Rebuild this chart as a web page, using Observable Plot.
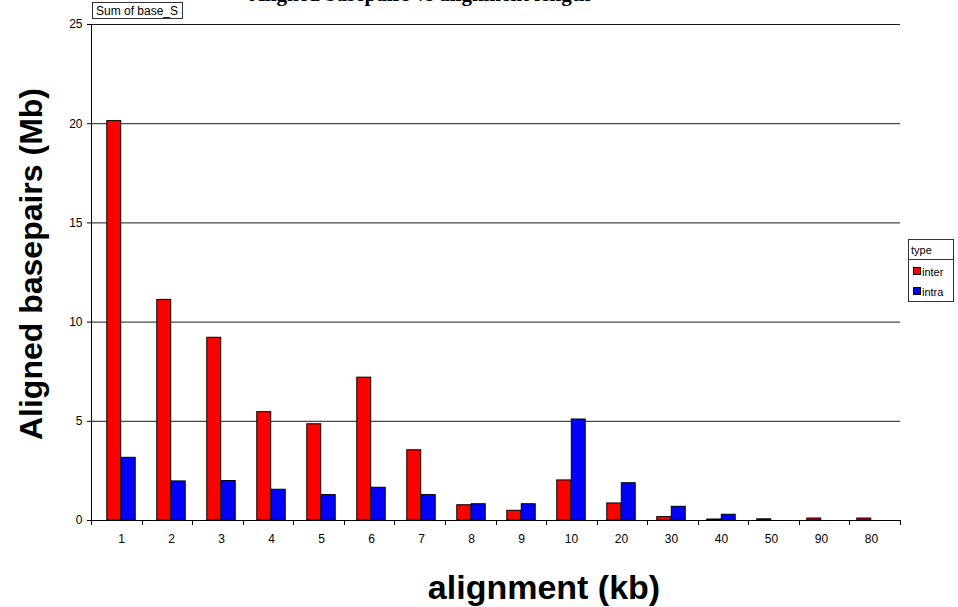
<!DOCTYPE html>
<html>
<head>
<meta charset="utf-8">
<script src="https://cdn.jsdelivr.net/npm/d3@7"></script>
<script src="https://cdn.jsdelivr.net/npm/@observablehq/plot@0.6"></script>
<style>
  html, body { margin: 0; padding: 0; background: #fff; }
  #chart { position: relative; width: 958px; height: 607px; overflow: hidden; }
  #chart svg { display: block; }
</style>
</head>
<body>
<div id="chart"></div>
<script>
// Alignment length bins (kb), in pivot-table order
const sizes = ["1", "2", "3", "4", "5", "6", "7", "8", "9", "10", "20", "30", "40", "50", "90", "80"];
// Sum of aligned basepairs (Mb) per bin
const interValues = [20.13, 11.12, 9.21, 5.46, 4.85, 7.2, 3.54, 0.77, 0.49, 2.02, 0.86, 0.17, 0.05, 0.06, 0.1, 0.1];
const intraValues = [3.16, 1.97, 1.99, 1.55, 1.28, 1.65, 1.28, 0.82, 0.82, 5.09, 1.88, 0.69, 0.29, null, null, null];
const seriesNames = ["inter", "intra"];
const seriesColors = ["#ff0000", "#0000ff"];
const yTicks = [0, 5, 10, 15, 20, 25];

const titleText = "Aligned basepairs vs alignment length";
const yTitle = "Aligned basepairs (Mb)";
const xTitle = "alignment (kb)";
const fieldButton = "Sum of base_S";
const legendTitle = "type";

const W = 958, H = 607;
const mL = 91, mR = 58, mT = 24, mB = 87;
const step = (W - mL - mR) / sizes.length;
const barW = 14.5;
const sans = "'Liberation Sans', Arial, Helvetica, sans-serif";

const interData = sizes.map((s, i) => ({size: s, value: interValues[i]}));
const intraData = sizes.map((s, i) => ({size: s, value: intraValues[i]})).filter(d => d.value != null);

const chart = Plot.plot({
  width: W,
  height: H,
  marginLeft: mL,
  marginRight: mR,
  marginTop: mT,
  marginBottom: mB,
  style: {fontFamily: sans, fontSize: "12px", color: "#000", background: "#fff"},
  x: {domain: sizes, padding: 0, tickSize: 0, tickPadding: 14, label: null},
  y: {domain: [0, 25], ticks: yTicks, tickSize: 4, tickPadding: 5, label: null, line: true},
  marks: [
    Plot.ruleY(yTicks, {stroke: "#1a1a1a", strokeWidth: 1}),
    Plot.barY(interData, {
      x: "size", y: "value", fill: seriesColors[0], stroke: "#000", strokeWidth: 1,
      insetLeft: step / 2 - barW, insetRight: step / 2
    }),
    Plot.barY(intraData, {
      x: "size", y: "value", fill: seriesColors[1], stroke: "#000", strokeWidth: 1,
      insetLeft: step / 2, insetRight: step / 2 - barW
    }),
    Plot.ruleY([0], {stroke: "#000", strokeWidth: 1})
  ]
});

document.getElementById("chart").appendChild(chart);

const svg = d3.select(chart);

// Category-boundary tick marks on the x axis, from the plot's band scale
const xs = chart.scale("x");
const band = d3.scaleBand(xs.domain, xs.range)
  .paddingInner(xs.paddingInner ?? 0)
  .paddingOuter(xs.paddingOuter ?? 0);
const y0 = chart.scale("y").range[0];
const bounds = sizes.map(s => band(s)).concat([band(sizes[sizes.length - 1]) + band.bandwidth()]);
svg.append("g")
  .attr("stroke", "#000")
  .selectAll("line")
  .data(bounds)
  .join("line")
  .attr("x1", d => Math.round(d) + 0.5)
  .attr("x2", d => Math.round(d) + 0.5)
  .attr("y1", y0)
  .attr("y2", y0 + 5);

// Chart title (runs off the top edge)
svg.append("text")
  .attr("x", 420)
  .attr("y", 1)
  .attr("text-anchor", "middle")
  .attr("font-family", "'Liberation Serif', 'Times New Roman', serif")
  .attr("font-weight", "bold")
  .attr("font-size", 21)
  .text(titleText);

// Pivot data-field button
const fb = svg.append("g");
const fbText = fb.append("text")
  .attr("x", 96)
  .attr("y", 15)
  .attr("text-anchor", "start")
  .attr("font-family", sans)
  .attr("font-size", 12)
  .text(fieldButton);
const fbLen = fbText.node().getComputedTextLength();
fb.insert("rect", "text")
  .attr("x", 92.5)
  .attr("y", 2.5)
  .attr("width", Math.round(fbLen + 8))
  .attr("height", 16)
  .attr("fill", "#fff")
  .attr("stroke", "#333");

// Axis titles
svg.append("text")
  .attr("transform", `translate(42,264) rotate(-90)`)
  .attr("text-anchor", "middle")
  .attr("font-family", sans)
  .attr("font-weight", "bold")
  .attr("font-size", 32)
  .text(yTitle);

svg.append("text")
  .attr("x", 544)
  .attr("y", 599)
  .attr("text-anchor", "middle")
  .attr("font-family", sans)
  .attr("font-weight", "bold")
  .attr("font-size", 34)
  .text(xTitle);

// Legend
const lg = svg.append("g")
  .attr("font-family", sans)
  .attr("font-size", 11)
  .attr("text-anchor", "start");
lg.append("rect")
  .attr("x", 908.5).attr("y", 239.5).attr("width", 45).attr("height", 62)
  .attr("fill", "#fff").attr("stroke", "#333");
lg.append("line")
  .attr("x1", 908.5).attr("x2", 953.5).attr("y1", 259.5).attr("y2", 259.5)
  .attr("stroke", "#333");
lg.append("text").attr("x", 911).attr("y", 254).text(legendTitle);
seriesNames.forEach((name, i) => {
  lg.append("rect")
    .attr("x", 913.5).attr("y", 267.5 + i * 20).attr("width", 7).attr("height", 7)
    .attr("fill", seriesColors[i]).attr("stroke", "#000");
  lg.append("text").attr("x", 922).attr("y", 276 + i * 20).text(name);
});
</script>
</body>
</html>
